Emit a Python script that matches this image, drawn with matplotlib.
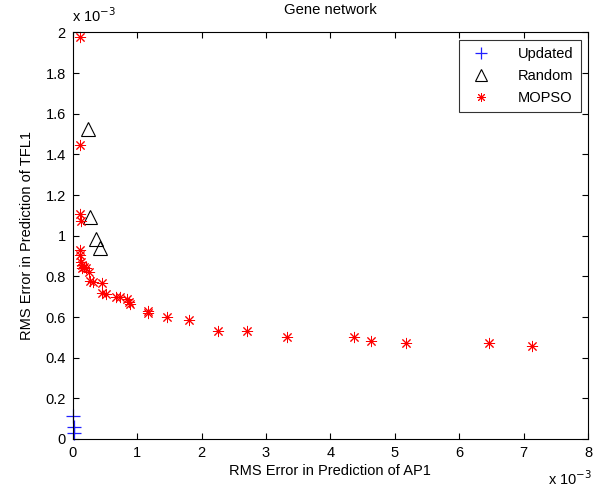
import matplotlib
matplotlib.use("Agg")
import matplotlib.pyplot as plt
from matplotlib.ticker import FuncFormatter, MultipleLocator

# values in units of 1e-3
updated_x = [0.00, 0.02, 0.02]
updated_y = [0.115, 0.061, 0.028]

random_x = [0.245, 0.27, 0.364, 0.427]
random_y = [1.525, 1.09, 0.985, 0.942]

mopso_x = [0.11, 0.11, 0.11, 0.13, 0.12, 0.12, 0.13, 0.15, 0.14, 0.17, 0.20,
           0.26, 0.27, 0.32, 0.46, 0.46, 0.515, 0.67, 0.73, 0.84, 0.88, 0.895,
           1.17, 1.17, 1.47, 1.80, 2.25, 2.70, 3.32, 4.37, 4.63, 5.18, 6.47, 7.13]
mopso_y = [1.979, 1.445, 1.108, 1.074, 0.931, 0.906, 0.873, 0.841, 0.858, 0.845, 0.840,
           0.821, 0.778, 0.773, 0.768, 0.718, 0.711, 0.701, 0.698, 0.688, 0.675, 0.665,
           0.632, 0.620, 0.600, 0.583, 0.529, 0.529, 0.504, 0.501, 0.483, 0.471, 0.471, 0.458]

plt.rcParams["font.family"] = ["Liberation Sans", "DejaVu Sans"]
plt.rcParams["font.size"] = 10

fig = plt.figure(figsize=(5.98, 4.87), dpi=100)
ax = fig.add_axes([0.1216, 0.0986, 0.8617, 0.8347])

ax.plot(updated_x, updated_y, linestyle="none", marker="+", color="#2020ff",
        markersize=10, markeredgewidth=0.9, label="Updated", clip_on=False)
ax.plot(random_x, random_y, linestyle="none", marker="^", markerfacecolor="none",
        markeredgecolor="black", markersize=10, markeredgewidth=0.8, label="Random",
        clip_on=False)
ax.plot(mopso_x, mopso_y, linestyle="none", marker=(8, 2, 0), color="red",
        markersize=8, markeredgewidth=0.7, label="MOPSO", clip_on=False)

ax.set_xlim(0, 8)
ax.set_ylim(0, 2)
ax.xaxis.set_major_locator(MultipleLocator(1))
ax.yaxis.set_major_locator(MultipleLocator(0.2))
fmt = FuncFormatter(lambda v, p: "%g" % round(v, 3))
ax.xaxis.set_major_formatter(fmt)
ax.yaxis.set_major_formatter(fmt)
ax.tick_params(direction="in", top=True, right=True, length=4, labelsize=10.5, pad=5)
for s in ax.spines.values():
    s.set_linewidth(0.8)

ax.set_title("Gene network", fontsize=10.7, pad=13)
ax.set_xlabel("RMS Error in Prediction of AP1", fontsize=10.5, labelpad=3)
ax.set_ylabel("RMS Error in Prediction of TFL1", fontsize=10.5, labelpad=8)

fig.text(0.12, 0.949, r"x 10$^{-3}$", fontsize=10.5, ha="left", va="bottom")
fig.text(0.916, 0.004, r"x 10$^{-3}$", fontsize=10.5, ha="left", va="baseline")

leg = ax.legend(loc="upper right", fancybox=False, edgecolor="black",
                fontsize=10.5, borderaxespad=0.5, handletextpad=1.5,
                labelspacing=0.55, markerscale=0.8, borderpad=0.5)
leg.get_frame().set_linewidth(0.8)

fig.savefig("out.png", dpi=100, facecolor="white")
